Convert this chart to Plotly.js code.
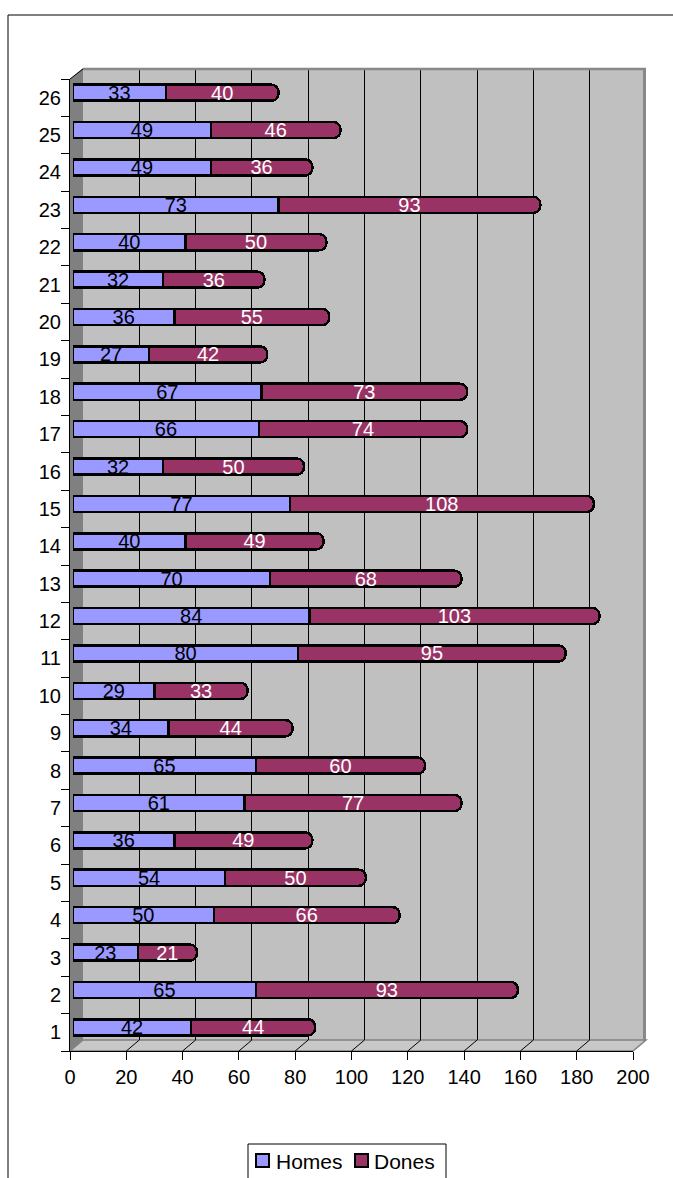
<!DOCTYPE html>
<html>
<head>
<meta charset="utf-8">
<script src="https://cdn.plot.ly/plotly-3.0.1.min.js"></script>
<style>html,body{margin:0;padding:0;background:#fff;}#chart{width:673px;height:1178px;}</style>
</head>
<body>
<div id="chart"></div>
<script>
const categories = ['1','2','3','4','5','6','7','8','9','10','11','12','13','14','15','16','17','18','19','20','21','22','23','24','25','26'];
const homes = [42,65,23,50,54,36,61,65,34,29,80,84,70,40,77,32,66,67,27,36,32,40,73,49,49,33];
const dones = [44,93,21,66,50,49,77,60,44,33,95,103,68,49,108,50,74,73,42,55,36,50,93,36,46,40];
const xTicks = [0,20,40,60,80,100,120,140,160,180,200];
const seriesNames = ['Homes','Dones'];
const seriesColors = ['#9999ff','#993366'];

// geometry (pixels)
const W = 673, H = 1178;
const L = 70, R = 646, T = 68, B = 1051;      // paper area
const FR = 633, FT = 79;                        // front axis right / top
const DX = 13, DY = 11;                         // depth of 3D wall
const BX = 3, BY = 5;                           // bar shift
const PW = R - L, PH = B - T;
const px = v => (v - L) / PW;
const py = v => (B - v) / PH;
const FONT = 'Liberation Sans, Arial, sans-serif';

const traces = [
  // invisible traces to establish front and back axes
  {type:'scatter', x: homes, y: categories, xaxis:'x', yaxis:'y', mode:'markers',
   marker:{opacity:0}, hoverinfo:'skip', showlegend:false},
  {type:'scatter', x: homes, y: categories, xaxis:'x2', yaxis:'y2', mode:'markers',
   marker:{opacity:0}, hoverinfo:'skip', showlegend:false},
  {type:'bar', orientation:'h', name: seriesNames[0], x: homes, y: categories,
   xaxis:'x3', yaxis:'y3', text: homes.map(String), textposition:'inside',
   insidetextanchor:'middle', textangle:0, constraintext:'none',
   textfont:{family:FONT, size:20, color:'#000'},
   marker:{color:seriesColors[0], line:{color:'#000', width:2.5}, cornerradius:7},
   hoverinfo:'skip', showlegend:false},
  {type:'bar', orientation:'h', name: seriesNames[1], x: dones, y: categories,
   xaxis:'x3', yaxis:'y3', text: dones.map(String), textposition:'inside',
   insidetextanchor:'middle', textangle:0, constraintext:'none',
   textfont:{family:FONT, size:20, color:'#fff'},
   marker:{color:seriesColors[1], line:{color:'#000', width:2.5}, cornerradius:7},
   hoverinfo:'skip', showlegend:false}
];

const shapes = [];
// outer chart border
shapes.push({type:'rect', xref:'paper', yref:'paper', x0:px(8), x1:px(W+20), y0:py(H+20), y1:py(15),
  line:{color:'#000', width:1}, fillcolor:'rgba(0,0,0,0)', layer:'below'});
// back wall
shapes.push({type:'rect', xref:'paper', yref:'paper', x0:px(L+DX), x1:px(R), y0:py(B-DY), y1:py(T),
  fillcolor:'#c0c0c0', line:{width:0}, layer:'below'});
// left side wall
shapes.push({type:'path', xref:'paper', yref:'paper',
  path:`M ${px(L)} ${py(FT)} L ${px(L+DX)} ${py(T)} L ${px(L+DX)} ${py(B-DY)} L ${px(L)} ${py(B)} Z`,
  fillcolor:'#808080', line:{width:0}, layer:'below'});
// floor
shapes.push({type:'path', xref:'paper', yref:'paper',
  path:`M ${px(L)} ${py(B)} L ${px(FR)} ${py(B)} L ${px(R)} ${py(B-DY)} L ${px(L+DX)} ${py(B-DY)} Z`,
  fillcolor:'#c8c8c8', line:{color:'#808080', width:1.5}, layer:'below'});
// wall top and right borders
shapes.push({type:'line', xref:'paper', yref:'paper', x0:px(L+DX), x1:px(R), y0:py(T+1), y1:py(T+1),
  line:{color:'#888888', width:2.5}, layer:'above'});
shapes.push({type:'line', xref:'paper', yref:'paper', x0:px(R-1.5), x1:px(R-1.5), y0:py(T), y1:py(B-DY),
  line:{color:'#888888', width:3}, layer:'above'});
shapes.push({type:'line', xref:'paper', yref:'paper', x0:px(L), x1:px(L+DX), y0:py(FT), y1:py(T+1),
  line:{color:'#000', width:1}, layer:'above'});
// floor diagonal gridline extensions
xTicks.forEach(v => {
  if (v === 0) return;
  shapes.push({type:'line', xref:'x', yref:'paper', xsizemode:'pixel', xanchor:v, x0:0, x1:DX,
    ysizemode:'pixel', yanchor:0, y0:0, y1:DY, line:{color:'#000', width:1}, layer:'below'});
});
// manual legend
shapes.push({type:'rect', xref:'paper', yref:'paper', x0:px(248), x1:px(446), y0:py(H+20), y1:py(1144),
  fillcolor:'#fff', line:{color:'#000', width:1}, layer:'above'});
shapes.push({type:'rect', xref:'paper', yref:'paper', x0:px(256), x1:px(269), y0:py(1167), y1:py(1154),
  fillcolor:seriesColors[0], line:{color:'#000', width:2}, layer:'above'});
shapes.push({type:'rect', xref:'paper', yref:'paper', x0:px(355), x1:px(368), y0:py(1167), y1:py(1154),
  fillcolor:seriesColors[1], line:{color:'#000', width:2}, layer:'above'});

const annotations = [
  {xref:'paper', yref:'paper', x:px(274), y:py(1161), xanchor:'left', yanchor:'middle',
   text:seriesNames[0], showarrow:false, font:{family:FONT, size:21, color:'#000'}},
  {xref:'paper', yref:'paper', x:px(372), y:py(1161), xanchor:'left', yanchor:'middle',
   text:seriesNames[1], showarrow:false, font:{family:FONT, size:21, color:'#000'}}
];

const layout = {
  width: W, height: H,
  margin: {l: L, r: W - R, t: T, b: H - B, pad: 0},
  paper_bgcolor:'#fff', plot_bgcolor:'rgba(0,0,0,0)',
  font:{family:FONT, size:20, color:'#000'},
  showlegend:false,
  barmode:'stack', bargap:0.57,
  uniformtext:{mode:'show', minsize:20},
  xaxis:{domain:[0, px(FR)], range:[0,200], tickvals:xTicks, ticks:'outside', ticklen:8,
    tickcolor:'#000', tickwidth:1, showline:true, linecolor:'#000', linewidth:1,
    showgrid:false, zeroline:false, anchor:'y', tickfont:{size:20}, fixedrange:true},
  yaxis:{domain:[0, py(FT)], type:'category', categoryorder:'array', categoryarray:categories,
    range:[-0.5, 25.5], tickson:'boundaries', ticks:'outside', ticklen:8, tickcolor:'#000',
    ticklabelstandoff:4,
    showline:true, linecolor:'#000', linewidth:1, showgrid:false, zeroline:false,
    anchor:'x', tickfont:{size:20}, fixedrange:true},
  xaxis2:{domain:[px(L+DX), 1], range:[0,200], tickvals:xTicks, showticklabels:false,
    ticks:'', showgrid:true, gridcolor:'#000', gridwidth:1, zeroline:false, showline:false,
    anchor:'y2', fixedrange:true},
  yaxis2:{domain:[py(B-DY), 1], type:'category', categoryarray:categories, range:[-0.5,25.5],
    showticklabels:false, ticks:'', showgrid:false, zeroline:false, showline:false,
    anchor:'x2', fixedrange:true},
  xaxis3:{domain:[px(L+BX), px(FR+BX)], range:[0,200], showticklabels:false, ticks:'',
    showgrid:false, zeroline:false, showline:false, anchor:'y3', fixedrange:true},
  yaxis3:{domain:[py(B-BY), py(FT-BY)], type:'category', categoryorder:'array',
    categoryarray:categories, range:[-0.5,25.5], showticklabels:false, ticks:'',
    showgrid:false, zeroline:false, showline:false, anchor:'x3', fixedrange:true},
  shapes: shapes,
  annotations: annotations
};

Plotly.newPlot('chart', traces, layout, {displayModeBar:false, staticPlot:true});
</script>
</body>
</html>
